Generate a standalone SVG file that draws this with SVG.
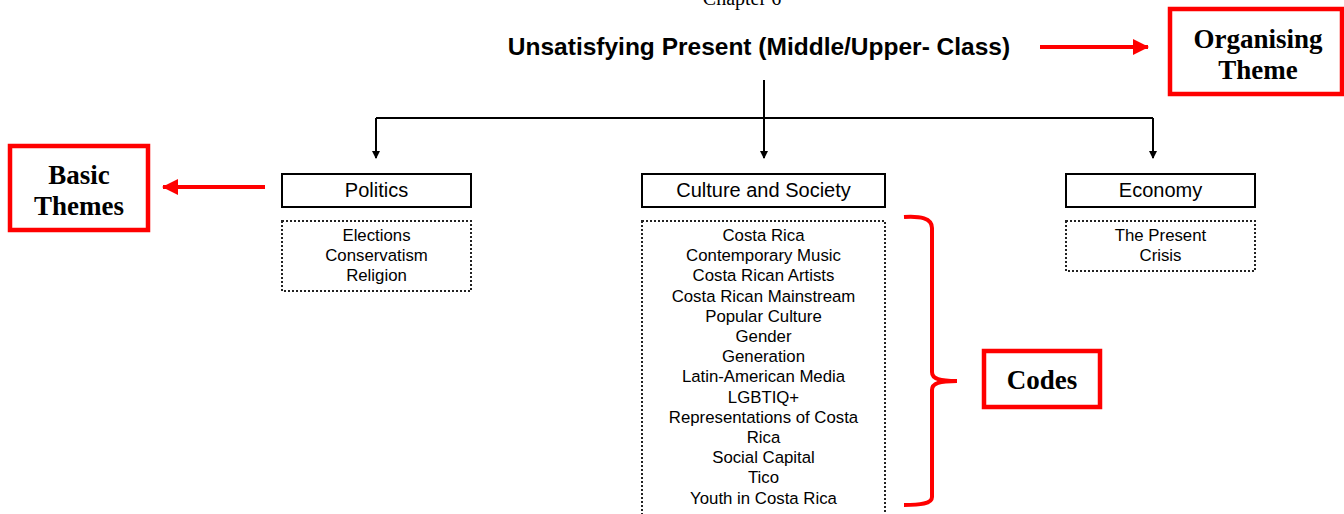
<svg xmlns="http://www.w3.org/2000/svg" width="1344" height="514" viewBox="0 0 1344 514">
<style>
.bg{fill:#fff}
.theme{fill:#fff;stroke:#000;stroke-width:2}
.codes{fill:#fff;stroke:#222;stroke-width:2;stroke-dasharray:2 2}
.t{font-family:"Liberation Sans",Arial,sans-serif;font-size:20px;fill:#000;text-anchor:middle}
.c{font-family:"Liberation Sans",Arial,sans-serif;font-size:16.8px;fill:#000;text-anchor:middle}
.red{fill:#fff;stroke:#f00;stroke-width:4.5}
.rl{font-family:"Liberation Serif","Times New Roman",serif;font-weight:bold;font-size:27px;fill:#000;text-anchor:middle}
.conn{fill:none;stroke:#000;stroke-width:2}
.rconn{fill:none;stroke:#f00;stroke-width:4}
</style>
<defs>
<marker id="ah" markerWidth="8" markerHeight="8" refX="7" refY="4" orient="auto" markerUnits="userSpaceOnUse"><path d="M0,0 L8,4 L0,8 Z" fill="#000"/></marker>
<marker id="rah" markerWidth="16" markerHeight="16" refX="15" refY="8" orient="auto" markerUnits="userSpaceOnUse"><path d="M0,0 L16,8 L0,16 Z" fill="#f00"/></marker>
</defs>
<rect class="bg" x="0" y="0" width="1344" height="514"/>
<text x="742" y="5" font-family="Liberation Serif,serif" font-size="20" text-anchor="middle" fill="#000">Chapter 6</text>
<g id="organising">
<text x="759" y="55" font-family="Liberation Sans,Arial,sans-serif" font-weight="bold" font-size="24.5" text-anchor="middle" fill="#000">Unsatisfying Present (Middle/Upper- Class)</text>
</g>
<g id="connectors">
<path class="conn" d="M764,80 V158" marker-end="url(#ah)"/>
<path class="conn" d="M376,118 H1153"/>
<path class="conn" d="M376,118 V158" marker-end="url(#ah)"/>
<path class="conn" d="M1153,118 V158" marker-end="url(#ah)"/>
</g>
<g id="politics">
<rect class="theme" x="282" y="174" width="189" height="33"/>
<text class="t" x="376.5" y="197">Politics</text>
<rect class="codes" x="282" y="221" width="189" height="70"/>
<text class="c" x="376.5" y="241">Elections</text>
<text class="c" x="376.5" y="261">Conservatism</text>
<text class="c" x="376.5" y="281">Religion</text>
</g>
<g id="culture">
<rect class="theme" x="642" y="174" width="243" height="33"/>
<text class="t" x="763.5" y="197">Culture and Society</text>
<rect class="codes" x="642" y="221" width="243" height="300"/>
<text class="c" x="763.5" y="241">Costa Rica</text>
<text class="c" x="763.5" y="261.2">Contemporary Music</text>
<text class="c" x="763.5" y="281.4">Costa Rican Artists</text>
<text class="c" x="763.5" y="301.6">Costa Rican Mainstream</text>
<text class="c" x="763.5" y="321.8">Popular Culture</text>
<text class="c" x="763.5" y="342">Gender</text>
<text class="c" x="763.5" y="362.2">Generation</text>
<text class="c" x="763.5" y="382.4">Latin-American Media</text>
<text class="c" x="763.5" y="402.6">LGBTIQ+</text>
<text class="c" x="763.5" y="422.8">Representations of Costa</text>
<text class="c" x="763.5" y="443">Rica</text>
<text class="c" x="763.5" y="463.2">Social Capital</text>
<text class="c" x="763.5" y="483.4">Tico</text>
<text class="c" x="763.5" y="503.6">Youth in Costa Rica</text>
</g>
<g id="economy">
<rect class="theme" x="1066" y="174" width="189" height="33"/>
<text class="t" x="1160.5" y="197">Economy</text>
<rect class="codes" x="1066" y="221" width="189" height="50"/>
<text class="c" x="1160.5" y="241">The Present</text>
<text class="c" x="1160.5" y="261">Crisis</text>
</g>
<g id="annotations">
<path class="rconn" d="M1040,47 H1148" marker-end="url(#rah)"/>
<path class="rconn" d="M265,187 H163" marker-end="url(#rah)"/>
<path class="rconn" d="M904,217 C920,216 932,218 932,228 V372 C932,379 940,381 957,381 C940,381 932,383 932,390 V497 C932,504 920,505 904,505"/>
</g>
<g id="label-organising">
<rect class="red" x="1170" y="9" width="172" height="85"/>
<text class="rl" x="1258" y="48">Organising</text>
<text class="rl" x="1258" y="79">Theme</text>
</g>
<g id="label-basic">
<rect class="red" x="10" y="146" width="138" height="84"/>
<text class="rl" x="79" y="184">Basic</text>
<text class="rl" x="79" y="215">Themes</text>
</g>
<g id="label-codes">
<rect class="red" x="984" y="351" width="116" height="56"/>
<text class="rl" x="1042" y="389">Codes</text>
</g>
</svg>
